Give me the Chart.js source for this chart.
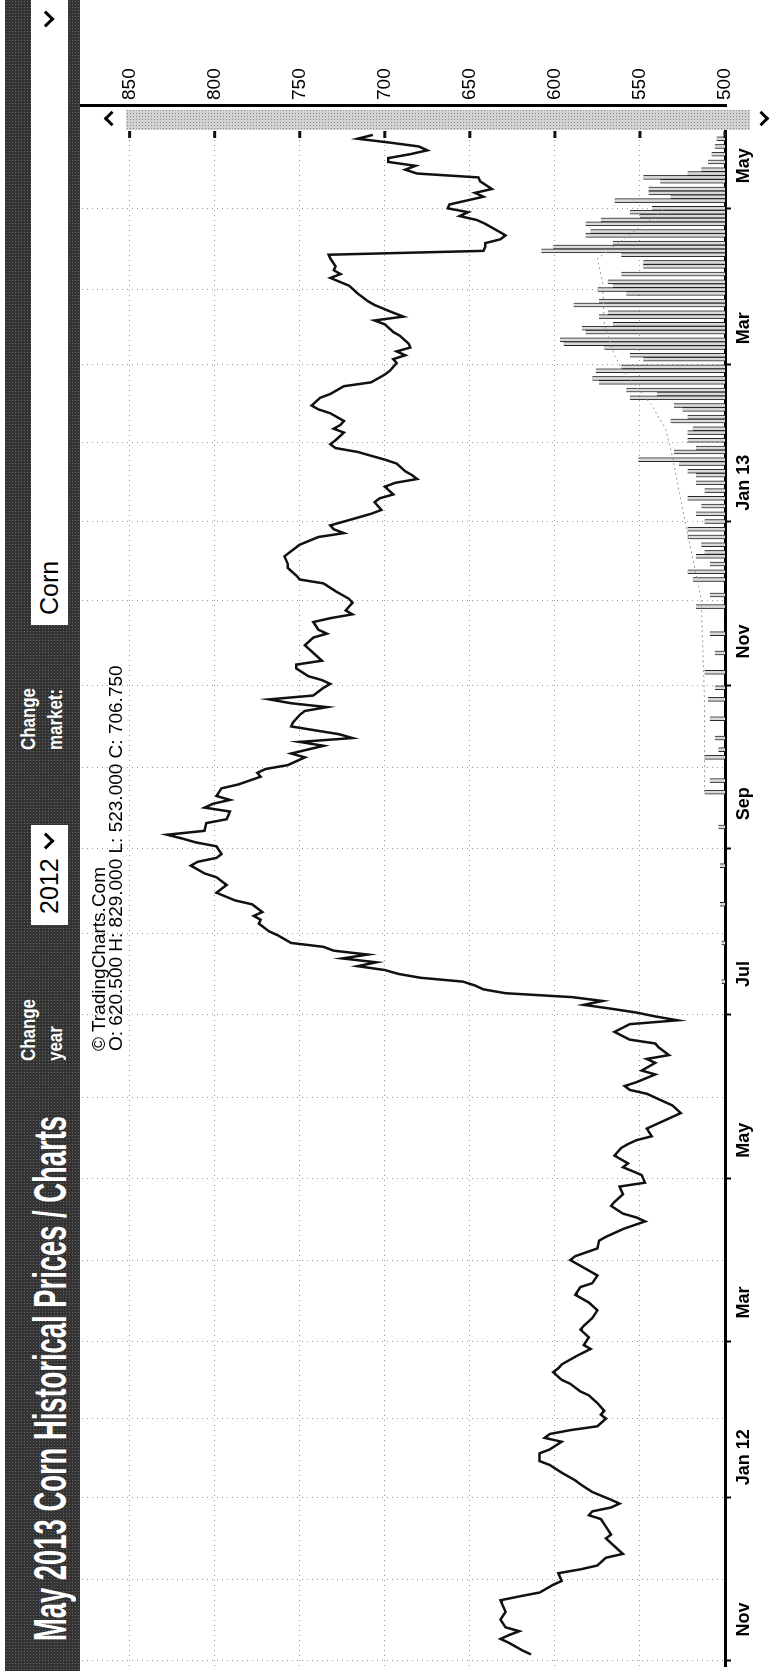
<!DOCTYPE html>
<html>
<head>
<meta charset="utf-8">
<script src="https://cdn.jsdelivr.net/npm/chart.js@4.4.1/dist/chart.umd.min.js"></script>
<style>
  html, body { margin: 0; padding: 0; background: #fff; overflow: hidden; }
  body { width: 771px; height: 1671px; position: relative; }
  /* the whole page is laid out landscape and turned a quarter turn */
  #page {
    position: absolute; left: 0; top: 0; width: 1671px; height: 771px;
    transform-origin: 0 0; transform: translateY(1671px) rotate(-90deg);
    font-family: "Liberation Sans", Arial, sans-serif;
  }
  #bar {
    position: absolute; left: 0; top: 5px; width: 1671px; height: 75px;
    background-color: #333;
    background-image: radial-gradient(#666 0.7px, transparent 0.9px);
    background-size: 3px 3px;
  }
  .txt { position: absolute; white-space: nowrap; transform-origin: 0 0; }
  .hdr { color: #fff; font-weight: bold; }
  .box { position: absolute; top: 26px; height: 37px; background: #fff; }
  .chev {
    position: absolute; width: 9px; height: 9px;
    border-right: 3px solid #000; border-bottom: 3px solid #000;
    transform: rotate(45deg);
  }
  #c { position: absolute; left: 0; top: 0; }
  #axisLine { position: absolute; left: 1564px; top: 80px; width: 3px; height: 647px; background: #000; }
  #scroll {
    position: absolute; left: 1541px; top: 126px; width: 20px; height: 624px;
    background-color: #d2d2d2;
    background-image: radial-gradient(#888 0.7px, transparent 0.9px);
    background-size: 3px 3px;
  }
  .arr { position: absolute; width: 8px; height: 8px; border-left: 3px solid #000; border-top: 3px solid #000; }
</style>
</head>
<body>
<div id="page">
  <div id="bar">
    <span class="txt hdr" id="title" style="left:30px; top:22px; font-size:46px; line-height:46px;">May 2013 Corn Historical Prices / Charts</span>
    <span class="txt hdr" id="chg1" style="left:610px; top:9px; font-size:21px; line-height:27px;">Change<br>year</span>
    <div class="box" style="left:746px; width:100px;">
      <span class="txt" style="left:11px; top:3px; font-size:25px; line-height:31px; color:#000;">2012</span>
      <span class="chev" style="left:78px; top:9px;"></span>
    </div>
    <span class="txt hdr" id="chg2" style="left:921px; top:9px; font-size:21px; line-height:27px;">Change<br>market:</span>
    <div class="box" style="left:1046px; width:625px;">
      <span class="txt" style="left:10px; top:3px; font-size:25px; line-height:31px; color:#000;">Corn</span>
      <span class="chev" style="left:600px; top:9px;"></span>
    </div>
  </div>
  <canvas id="c" width="1671" height="771"></canvas>
  <div id="axisLine"></div>
  <div id="scroll"></div>
  <div class="arr" style="left:1547px; top:106px; transform:rotate(45deg);"></div>
  <div class="arr" style="left:1547px; top:756px; transform:rotate(225deg);"></div>
  <span class="txt" style="left:620px; top:89px; font-size:19px; line-height:19px; color:#000;">© TradingCharts.Com</span>
  <span class="txt" style="left:620px; top:106px; font-size:19px; line-height:19px; color:#000;">O: 620.500 H: 829.000 L: 523.000 C: 706.750</span>
</div>

<script>
// trading-day index (0 = 1 Nov 2011) and settlement, May 2013 corn
const tradingDay = [-9,-8,-6,-5,-4,-3,-2,0,2,4,5,6,7,9,10,12,13,14,16,17,19,21,22,24,26,27,28,29,30,31,
  33,35,36,38,40,41,43,44,46,47,48,49,50,52,53,54,56,58,59,61,62,64,65,66,68,70,71,73,75,76,
  78,80,82,84,86,87,89,91,93,94,96,98,99,101,103,104,105,107,108,110,112,113,115,117,118,120,122,123,124,125,
  127,128,130,131,133,134,136,137,138,139,141,142,144,145,146,148,149,150,152,154,155,156,157,158,159,160,161,162,163,164,
  165,166,167,168,169,170,171,172,173,174,175,177,178,180,181,182,183,185,186,188,189,190,192,193,195,196,197,198,200,201,
  202,203,204,206,207,209,210,211,212,213,215,216,218,219,220,221,223,224,226,227,228,229,230,231,232,234,235,236,237,238,
  239,241,242,243,244,246,247,248,250,252,254,255,256,258,259,260,261,263,264,266,268,269,270,272,273,275,276,278,280,281,
  282,283,285,286,287,289,290,291,293,294,295,296,297,299,300,302,303,304,305,307,308,309,310,312,313,314,316,317,319,320,
  322,323,325,326,327,328,329,330,332,333,335,336,337,338,340,341,342,343,345,347,348,349,350,352,353,354,355,356,357,358,
  359,361,362,363,364,365,366,368,369,370,372,373,374,375,376,377,378,379,380,381,382,383,384];
const closePrice = [614,619,627,632,627,621,629,632,629,631,632,621,609,601,596,598,585,575,570,560,565,570,567,570,573,580,578,567,562,567,
  578,585,588,596,603,609,609,603,596,606,603,591,575,570,573,571,575,580,585,591,596,601,598,596,588,579,583,580,585,583,
  578,575,580,588,585,578,575,583,591,588,575,574,570,560,547,552,560,567,565,560,562,547,549,560,557,565,561,557,552,543,
  546,541,531,526,531,536,546,556,559,552,541,549,541,546,533,539,541,556,565,556,528,541,552,567,583,572,590,629,642,647,
  654,679,692,700,716,705,725,710,730,736,755,763,768,774,773,777,772,778,788,799,796,793,799,806,814,810,799,796,799,811,
  819,828,806,805,793,791,806,801,791,799,796,786,773,775,770,757,747,755,736,750,719,727,741,755,754,750,747,734,755,768,
  742,736,732,737,745,752,752,737,742,747,742,734,739,742,732,719,723,719,721,729,736,750,752,757,757,759,756,750,739,724,
  730,732,716,708,702,706,703,695,700,694,681,684,688,693,700,716,729,732,729,724,730,726,724,732,739,743,738,732,724,708,
  700,697,693,695,688,693,685,686,691,695,700,706,689,695,706,710,713,716,721,732,726,730,729,732,733,642,641,641,632,629,
  633,641,646,656,651,663,662,642,647,637,644,645,681,688,682,698,698,685,675,680,697,716,707];

// volume, read as bar height in price points above the 500 line
const volumeDay = [165,175,185,195,205,214,217,223,225,228,233,238,241,245,250,255,262,265,269,271,273,275,276,278,280,282,284,286,288,290,
  292,294,296,297,299,300,302,303,305,307,308,310,311,313,314,316,317,318,320,321,323,324,326,327,329,330,331,333,334,335,
  337,338,340,341,343,344,345,346,348,350,351,353,354,355,356,358,359,361,362,363,364,365,367,368,369,370,372,373,374,375,
  377,379,381,383];
const volume = [2,2,3,3,4,12,9,12,4,6,9,10,6,12,6,9,17,9,19,22,9,17,12,14,22,22,12,17,14,22,
  12,17,17,22,27,51,30,17,22,22,19,32,22,25,30,56,40,58,74,78,76,61,48,56,71,95,97,82,84,66,
  74,69,89,74,58,75,66,69,61,48,48,61,108,101,66,82,79,82,73,50,56,43,65,32,45,45,38,48,22,14,
  10,8,6,5];

// open interest (dotted), same height units
const oiDay = [214,237,264,283,292,301,308,314,323,327,335,346,352,365];
const openInterest = [12,12,14,23,27,31,35,43,60,65,71,72,75,35];

const monthStarts = [0,21,42,62,82,104,124,146,167,188,211,230,253,274,294,315,334,354,376];
const monthLabels = ['Nov','','Jan 12','','Mar','','May','','Jul','','Sep','','Nov','','Jan 13','','Mar','','May'];
const priceTicks = [500,550,600,650,700,750,800,850];

// squeeze header texts to the widths they take in the picture
function fitWidth(id, w) {
  const el = document.getElementById(id);
  el.style.transform = 'scaleX(' + (w / el.offsetWidth) + ')';
}
fitWidth('title', 525);
fitWidth('chg1', 62);
fitWidth('chg2', 62);

const edgeTicks = {
  id: 'edgeTicks',
  afterDraw(chart) {
    const { ctx, chartArea } = chart;
    const ys = chart.scales.y;
    ctx.save();
    ctx.fillStyle = '#111';
    priceTicks.forEach(v => {
      ctx.fillRect(chartArea.right - 7, ys.getPixelForValue(v) - 1.5, 7, 3);
    });
    ctx.restore();
  }
};

const ctx = document.getElementById('c').getContext('2d');
new Chart(ctx, {
  type: 'line',
  data: {
    datasets: [
      {
        label: 'Close',
        data: tradingDay.map((d, i) => ({ x: d, y: closePrice[i] })),
        borderColor: '#111',
        borderWidth: 2.5,
        pointRadius: 0,
        tension: 0,
        yAxisID: 'y',
        order: 0
      },
      {
        label: 'Open interest',
        data: oiDay.map((d, i) => ({ x: d, y: openInterest[i] })),
        borderColor: '#999',
        borderWidth: 1,
        borderDash: [2, 3],
        pointRadius: 0,
        yAxisID: 'yv',
        order: 1
      },
      {
        type: 'bar',
        label: 'Volume',
        data: volumeDay.map((d, i) => ({ x: d, y: volume[i] })),
        backgroundColor: '#dadada',
        borderColor: '#222',
        borderWidth: { top: 0, left: 1, right: 1, bottom: 0 },
        borderSkipped: false,
        barThickness: 4,
        yAxisID: 'yv',
        order: 2
      }
    ]
  },
  options: {
    responsive: false,
    animation: false,
    devicePixelRatio: 1,
    layout: { padding: { left: 5, top: 82, right: 0, bottom: 0 } },
    plugins: { legend: { display: false }, tooltip: { enabled: false } },
    scales: {
      x: {
        type: 'linear',
        min: -12,
        max: 385,
        offset: false,
        afterBuildTicks: ax => { ax.ticks = monthStarts.map(v => ({ value: v })); },
        afterFit: s => { s.height = 46; },
        ticks: {
          autoSkip: false,
          maxRotation: 0,
          padding: 2,
          color: '#000',
          font: { family: 'Liberation Sans', size: 18, weight: 'bold' },
          callback: v => monthLabels[monthStarts.indexOf(v)]
        },
        grid: {
          color: '#9a9a9a',
          lineWidth: 1,
          tickLength: 6,
          tickWidth: 2,
          tickColor: c => (c.tick && monthLabels[monthStarts.indexOf(c.tick.value)] ? '#000' : 'rgba(0,0,0,0)')
        },
        border: { display: true, color: '#000', width: 3, dash: [1, 4] }
      },
      y: {
        type: 'linear',
        position: 'right',
        min: 500,
        max: 878,
        afterBuildTicks: ax => { ax.ticks = priceTicks.map(v => ({ value: v })); },
        afterFit: s => { s.width = 131; },
        ticks: {
          padding: 31,
          color: '#000',
          font: { family: 'Liberation Sans', size: 19 }
        },
        grid: { color: '#9a9a9a', lineWidth: 1, drawTicks: false },
        border: { display: false, dash: [1, 4] }
      },
      yv: { type: 'linear', display: false, min: 0, max: 378 }
    }
  },
  plugins: [edgeTicks]
});
</script>
</body>
</html>
